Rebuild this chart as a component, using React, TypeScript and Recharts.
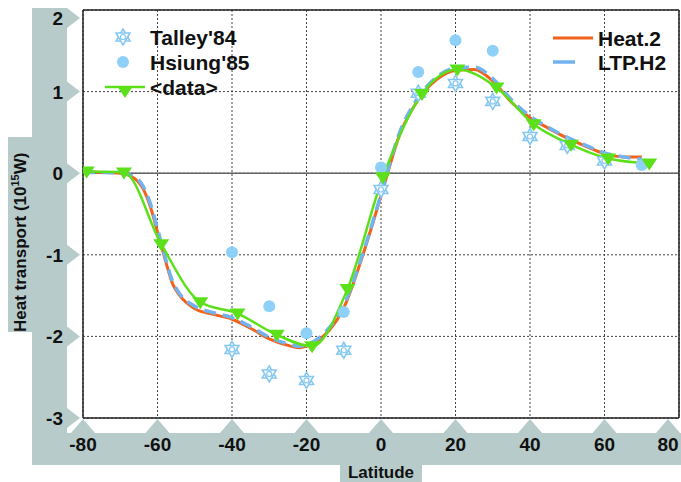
import React from "react";
import {
  ComposedChart,
  Line,
  Scatter,
  XAxis,
  YAxis,
  CartesianGrid,
  ReferenceLine,
} from "recharts";

// latitude grid + tick values
const xTicks = [-80, -60, -40, -20, 0, 20, 40, 60, 80];
const yTicks = [-3, -2, -1, 0, 1, 2];

// Talley'84 (stars)
const talleyLat = [-40, -30, -20, -10, 0, 10, 20, 30, 40, 50, 60];
const talleyVal = [-2.16, -2.46, -2.54, -2.17, -0.2, 0.98, 1.1, 0.88, 0.45, 0.34, 0.15];

// Hsiung'85 (circles)
const hsiungLat = [-40, -30, -20, -10, 0, 10, 20, 30, 70];
const hsiungVal = [-0.97, -1.63, -1.96, -1.7, 0.07, 1.24, 1.63, 1.5, 0.1];

// <data> (green, down triangles)
const dataLat = [-79, -69, -59, -48.5, -38.5, -28, -18.5, -9, 0.5, 11, 20.5, 31, 41, 51, 61, 72];
const dataVal = [0.02, 0.01, -0.87, -1.58, -1.72, -1.98, -2.12, -1.42, -0.05, 0.97, 1.27, 1.05, 0.6, 0.35, 0.18, 0.12];

// Heat.2 (orange)
const heatLat = [-80, -75, -70, -67, -64, -62, -60, -58, -56, -54, -50, -45, -40, -35, -30, -25, -22, -20, -17, -14, -10, -5, 0, 5, 10, 15, 20, 25, 30, 35, 40, 45, 50, 55, 60, 65, 70];
const heatVal = [0.02, 0.01, 0.0, -0.04, -0.18, -0.4, -0.72, -1.05, -1.35, -1.5, -1.66, -1.73, -1.79, -1.9, -2.03, -2.11, -2.14, -2.12, -2.05, -1.93, -1.65, -1.02, -0.28, 0.47, 0.9, 1.15, 1.26, 1.27, 1.13, 0.87, 0.68, 0.55, 0.43, 0.33, 0.24, 0.2, 0.2];

// LTP.H2 (blue dashed)
const ltpLat = [-80, -75, -70, -67, -64, -62, -60, -58, -56, -54, -50, -45, -40, -35, -30, -25, -22, -20, -17, -14, -10, -5, 0, 5, 10, 15, 20, 25, 30, 35, 40, 45, 50, 55, 60, 65, 70];
const ltpVal = [0.01, 0.01, 0.0, -0.03, -0.15, -0.36, -0.68, -1.02, -1.32, -1.48, -1.63, -1.71, -1.77, -1.88, -2.01, -2.09, -2.12, -2.1, -2.03, -1.9, -1.62, -1.0, -0.26, 0.5, 0.93, 1.18, 1.29, 1.3, 1.16, 0.9, 0.7, 0.56, 0.44, 0.34, 0.25, 0.2, 0.17];

const zip = (lat: number[], val: number[]) => lat.map((l, i) => ({ lat: l, v: val[i] }));

const talley = zip(talleyLat, talleyVal);
const hsiung = zip(hsiungLat, hsiungVal);
const dataPts = zip(dataLat, dataVal);
const heat = zip(heatLat, heatVal);
const ltp = zip(ltpLat, ltpVal);

const BAND = "#b7cbcb";
const STAR = "#86c8f2";
const CIRCLE = "#8fd0f8";
const ORANGE = "#f2621c";
const BLUE = "#72b2ee";
const GREEN = "#5ce01a";
const FONT = "'Liberation Sans', Arial, sans-serif";

const Hexagram = ({ cx, cy, r = 8 }: any) => {
  if (cx == null || cy == null) return null;
  const h = r * 0.866;
  const up = `${cx},${cy - r} ${cx + h},${cy + r / 2} ${cx - h},${cy + r / 2}`;
  const dn = `${cx},${cy + r} ${cx + h},${cy - r / 2} ${cx - h},${cy - r / 2}`;
  return (
    <g>
      <polygon points={up} fill="#fff" stroke={STAR} strokeWidth={1.6} />
      <polygon points={dn} fill="#fff" stroke={STAR} strokeWidth={1.6} />
      <circle cx={cx} cy={cy} r={2.5} fill="none" stroke={STAR} strokeWidth={1.2} />
    </g>
  );
};

const Dot = ({ cx, cy }: any) =>
  cx == null ? null : <circle cx={cx} cy={cy} r={6} fill={CIRCLE} />;

const DownTri = ({ cx, cy }: any) => {
  if (cx == null || cy == null) return null;
  return (
    <polygon
      points={`${cx - 8},${cy - 5} ${cx + 8},${cy - 5} ${cx},${cy + 7}`}
      fill={GREEN}
    />
  );
};

const XTick = ({ x, y, payload }: any) => {
  const px = payload.value === 80 ? x - 11 : x;
  return (
    <g>
      <polygon points={`${px},${y + 1} ${px - 12},${y + 15} ${px + 12},${y + 15}`} fill={BAND} />
      <text x={px} y={y + 33} textAnchor="middle" fontFamily={FONT} fontWeight="bold" fontSize={19} fill="#111">
        {payload.value}
      </text>
    </g>
  );
};

const YTick = ({ x, y, payload }: any) => {
  const py = payload.value === 2 ? y + 8 : y;
  return (
    <g>
      <polygon points={`${x - 3},${py} ${x - 16},${py - 10} ${x - 16},${py + 10}`} fill={BAND} />
      <text x={x - 20} y={py + 7} textAnchor="end" fontFamily={FONT} fontWeight="bold" fontSize={19} fill="#111">
        {payload.value}
      </text>
    </g>
  );
};

const Background = () => (
  <svg width={681} height={482} style={{ position: "absolute", left: 0, top: 0 }}>
    <rect x={32} y={8} width={35} height={457} fill={BAND} />
    <rect x={32} y={433} width={649} height={32} fill={BAND} />
    <rect x={8} y={137} width={24} height={195} fill={BAND} />
    <rect x={340} y={465} width={82} height={17} fill={BAND} />
  </svg>
);

const Overlay = () => (
  <svg width={681} height={482} style={{ position: "absolute", left: 0, top: 0, pointerEvents: "none" }}>
    <g fontFamily={FONT} fontWeight="bold" fill="#111">
      <text transform="translate(26,332) rotate(-90)" fontSize={17}>
        Heat transport (10
        <tspan fontSize={11} dy={-7}>15</tspan>
        <tspan dy={7}>W)</tspan>
      </text>
      <text x={381} y={478} textAnchor="middle" fontSize={17}>Latitude</text>

      <Hexagram cx={123} cy={37} />
      <text x={150} y={45} fontSize={21}>Talley'84</text>
      <circle cx={123} cy={62} r={6} fill={CIRCLE} />
      <text x={150} y={70} fontSize={21}>Hsiung'85</text>
      <line x1={105} x2={145} y1={87} y2={87} stroke={GREEN} strokeWidth={2.5} />
      <DownTri cx={125} cy={91} />
      <text x={150} y={95} fontSize={21}>&lt;data&gt;</text>

      <line x1={553} x2={593} y1={38} y2={38} stroke={ORANGE} strokeWidth={3} />
      <text x={598} y={46} fontSize={21}>Heat.2</text>
      <line x1={553} x2={575} y1={62} y2={62} stroke={BLUE} strokeWidth={3.5} />
      <text x={598} y={70} fontSize={21}>LTP.H2</text>
    </g>
  </svg>
);

export default function App() {
  return (
    <div style={{ position: "absolute", left: 0, top: 0, width: 681, height: 482, background: "#fff" }}>
      <Background />
      <div style={{ position: "absolute", left: 0, top: 0 }}>
        <ComposedChart width={681} height={482} margin={{ top: 10, right: 2, left: 0, bottom: 0 }}>
          <CartesianGrid stroke="#444" strokeDasharray="2 2" />
          <XAxis
            dataKey="lat"
            type="number"
            domain={[-80, 80]}
            ticks={xTicks}
            allowDataOverflow
            height={64}
            tickLine={false}
            tickSize={0}
            tickMargin={0}
            axisLine={{ stroke: "#222", strokeWidth: 1.5 }}
            tick={<XTick />}
            interval={0}
          />
          <YAxis
            dataKey="v"
            type="number"
            domain={[-3, 2]}
            ticks={yTicks}
            allowDataOverflow
            width={83}
            tickLine={false}
            tickSize={0}
            tickMargin={0}
            axisLine={{ stroke: "#222", strokeWidth: 1.5 }}
            tick={<YTick />}
            interval={0}
          />
          <ReferenceLine y={0} stroke="#666" strokeWidth={1.5} />
          <ReferenceLine y={2} stroke="#222" strokeWidth={1.5} />
          <ReferenceLine x={80} stroke="#222" strokeWidth={1.5} />
          <Scatter data={talley} dataKey="v" shape={<Hexagram />} isAnimationActive={false} />
          <Scatter data={hsiung} dataKey="v" shape={<Dot />} isAnimationActive={false} />
          <Line data={heat} dataKey="v" type="monotone" stroke={ORANGE} strokeWidth={3} dot={false} isAnimationActive={false} />
          <Line data={ltp} dataKey="v" type="monotone" stroke={BLUE} strokeWidth={3.5} strokeDasharray="12 7" dot={false} isAnimationActive={false} />
          <Line data={dataPts} dataKey="v" type="monotone" stroke={GREEN} strokeWidth={2.5} dot={<DownTri />} isAnimationActive={false} />
        </ComposedChart>
      </div>
      <Overlay />
    </div>
  );
}
